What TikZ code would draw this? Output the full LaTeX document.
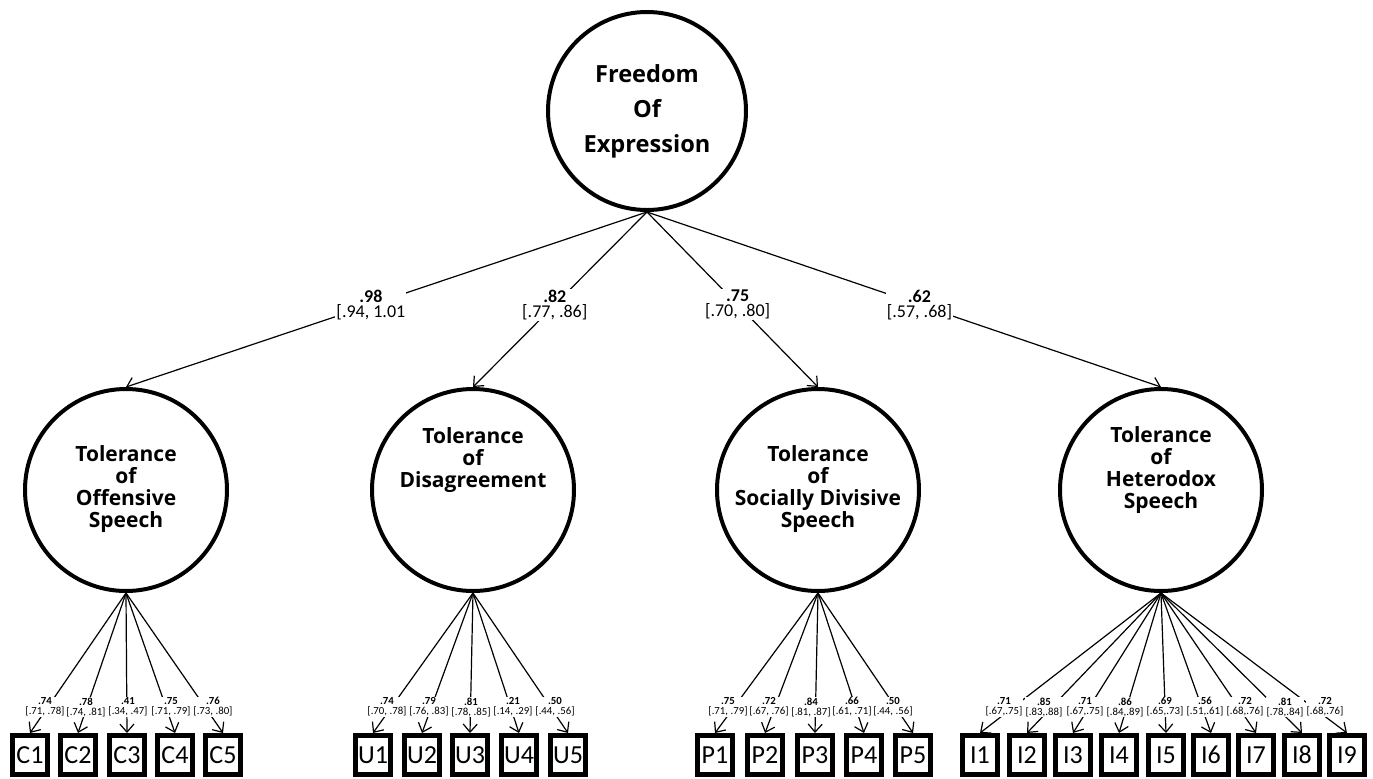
\documentclass[tikz,border=0pt]{standalone}
\usepackage{fontspec}
\setmainfont{Carlito}
\newfontfamily\circfont{Open Sans}
\usetikzlibrary{arrows.meta,positioning}
\tikzset{
  latent/.style={circle, draw, line width=2pt, minimum size=101pt, inner sep=0pt},
  ltext/.style={align=center, font={\circfont\bfseries\fontsize{10.5}{11}\selectfont}},
  obs/.style={rectangle, draw, line width=2.5pt, minimum width=17.5pt, minimum height=19.5pt, inner sep=0pt, font={\fontsize{13}{13}\selectfont}},
  reg/.style={-{Straight Barb[length=4pt,width=7pt]}, line width=0.6pt},
  load/.style={fill=white, inner sep=0.5pt, align=center, font={\fontsize{9}{7.5}\selectfont}},
  sload/.style={fill=white, inner sep=0.2pt, align=center, font={\fontsize{5.4}{5}\selectfont}}
}

\begin{document}
\begin{tikzpicture}[x=0.5pt, y=-0.5pt]
        \useasboundingbox (0,0) rectangle (1373,778);
        % Second order factor
        \node[latent, minimum size=99pt, ltext, font={\circfont\bfseries\fontsize{11.8}{17.5}\selectfont}] (foe) at (647,111) {Freedom\\Of\\Expression};
        % First order factors
        \node[latent] (off) at (126,490) {};
        \node[latent] (dis) at (473,490) {};
        \node[latent] (soc) at (818,490) {};
        \node[latent] (het) at (1161,490) {};
        \node[ltext] (offT) at (126,489) {Tolerance\\of\\Offensive\\Speech};
        \node[ltext] (disT) at (473,460) {Tolerance\\of\\Disagreement};
        \node[ltext] (socT) at (818,489) {Tolerance\\of\\Socially Divisive\\Speech};
        \node[ltext] (hetT) at (1161,470) {Tolerance\\of\\Heterodox\\Speech};
        % Second order loadings
        \draw[reg] (foe.south) -- (off.north) node[load, pos=.53] (l98) {\textbf{.98}\\{}[.94, 1.01};
        \draw[reg] (foe.south) -- (dis.north) node[load, pos=.53] (l82) {\textbf{.82}\\{}[.77, .86]};
        \draw[reg] (foe.south) -- (soc.north) node[load, pos=.53] (l75) {\textbf{.75}\\{}[.70, .80]};
        \draw[reg] (foe.south) -- (het.north) node[load, pos=.53] (l62) {\textbf{.62}\\{}[.57, .68]};
        % Items
        \node[obs] (C1) at (30,755) {C1};
        \node[obs] (C2) at (78,755) {C2};
        \node[obs] (C3) at (127,755) {C3};
        \node[obs] (C4) at (175,755) {C4};
        \node[obs] (C5) at (223,755) {C5};
        \node[obs] (U1) at (373,755) {U1};
        \node[obs] (U2) at (422,755) {U2};
        \node[obs] (U3) at (470,755) {U3};
        \node[obs] (U4) at (519,755) {U4};
        \node[obs] (U5) at (568,755) {U5};
        \node[obs] (P1) at (715,755) {P1};
        \node[obs] (P2) at (765,755) {P2};
        \node[obs] (P3) at (815,755) {P3};
        \node[obs] (P4) at (864,755) {P4};
        \node[obs] (P5) at (913,755) {P5};
        \node[obs] (I1) at (980,755) {I1};
        \node[obs] (I2) at (1027,755) {I2};
        \node[obs] (I3) at (1073,755) {I3};
        \node[obs] (I4) at (1119,755) {I4};
        \node[obs] (I5) at (1166,755) {I5};
        \node[obs] (I6) at (1211,755) {I6};
        \node[obs] (I7) at (1256,755) {I7};
        \node[obs] (I8) at (1302,755) {I8};
        \node[obs] (I9) at (1347,755) {I9};
        % First order loadings
        \draw[reg] (off.south) -- (C1.north);
        \draw[reg] (off.south) -- (C2.north);
        \draw[reg] (off.south) -- (C3.north);
        \draw[reg] (off.south) -- (C4.north);
        \draw[reg] (off.south) -- (C5.north);
        \draw[reg] (dis.south) -- (U1.north);
        \draw[reg] (dis.south) -- (U2.north);
        \draw[reg] (dis.south) -- (U3.north);
        \draw[reg] (dis.south) -- (U4.north);
        \draw[reg] (dis.south) -- (U5.north);
        \draw[reg] (soc.south) -- (P1.north);
        \draw[reg] (soc.south) -- (P2.north);
        \draw[reg] (soc.south) -- (P3.north);
        \draw[reg] (soc.south) -- (P4.north);
        \draw[reg] (soc.south) -- (P5.north);
        \draw[reg] (het.south) -- (I1.north);
        \draw[reg] (het.south) -- (I2.north);
        \draw[reg] (het.south) -- (I3.north);
        \draw[reg] (het.south) -- (I4.north);
        \draw[reg] (het.south) -- (I5.north);
        \draw[reg] (het.south) -- (I6.north);
        \draw[reg] (het.south) -- (I7.north);
        \draw[reg] (het.south) -- (I8.north);
        \draw[reg] (het.south) -- (I9.north);
        % Loading estimates
        \node[sload] (lC1) at (45,707) {\textbf{.74}\\{}[.71, .78]};
        \node[sload] (lC2) at (86,707) {\textbf{.78}\\{}[.74, .81]};
        \node[sload] (lC3) at (128,707) {\textbf{.41}\\{}[.34, .47]};
        \node[sload] (lC4) at (171,707) {\textbf{.75}\\{}[.71, .79]};
        \node[sload] (lC5) at (213,707) {\textbf{.76}\\{}[.73, .80]};
        \node[sload] (lU1) at (387,707) {\textbf{.74}\\{}[.70, .78]};
        \node[sload] (lU2) at (429,707) {\textbf{.79}\\{}[.76, .83]};
        \node[sload] (lU3) at (471,707) {\textbf{.81}\\{}[.78, .85]};
        \node[sload] (lU4) at (513,707) {\textbf{.21}\\{}[.14, .29]};
        \node[sload] (lU5) at (555,707) {\textbf{.50}\\{}[.44, .56]};
        \node[sload] (lP1) at (728,707) {\textbf{.75}\\{}[.71, .79]};
        \node[sload] (lP2) at (769,707) {\textbf{.72}\\{}[.67, .76]};
        \node[sload] (lP3) at (811,707) {\textbf{.84}\\{}[.81, .87]};
        \node[sload] (lP4) at (852,707) {\textbf{.66}\\{}[.61, .71]};
        \node[sload] (lP5) at (893,707) {\textbf{.50}\\{}[.44, .56]};
        \node[sload] (lI1) at (1004,707) {\textbf{.71}\\{}[.67,.75]};
        \node[sload] (lI2) at (1044,707) {\textbf{.85}\\{}[.83,.88]};
        \node[sload] (lI3) at (1085,707) {\textbf{.71}\\{}[.67,.75]};
        \node[sload] (lI4) at (1125,707) {\textbf{.86}\\{}[.84,.89]};
        \node[sload] (lI5) at (1165,707) {\textbf{.69}\\{}[.65,.73]};
        \node[sload] (lI6) at (1205,707) {\textbf{.56}\\{}[.51,.61]};
        \node[sload] (lI7) at (1245,707) {\textbf{.72}\\{}[.68,.76]};
        \node[sload] (lI8) at (1285,707) {\textbf{.81}\\{}[.78,.84]};
        \node[sload] (lI9) at (1325,707) {\textbf{.72}\\{}[.68,.76]};
      \end{tikzpicture}
\end{document}
